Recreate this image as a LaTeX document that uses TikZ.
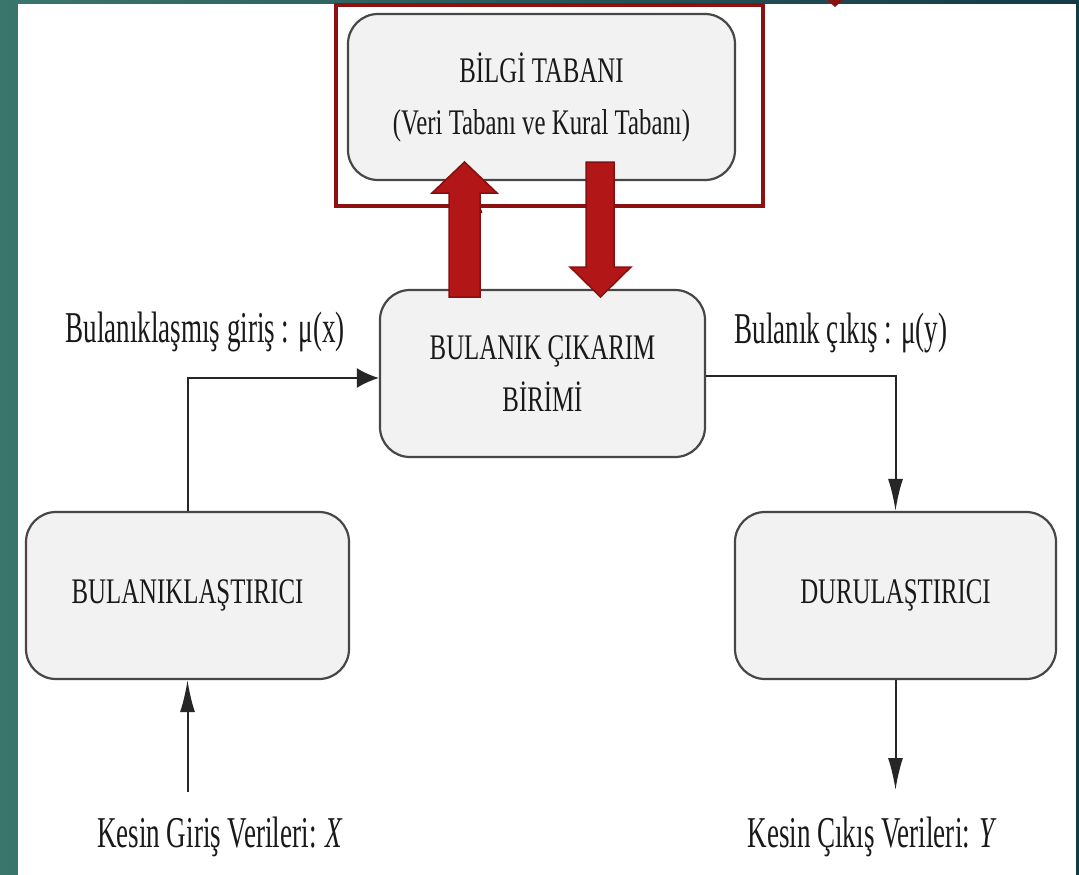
\documentclass[tikz,border=0pt]{standalone}
\usepackage{fontspec}
\setmainfont{Liberation Serif}
\newfontfamily\boxfont{Liberation Serif}[FakeStretch=0.69]
\newfontfamily\lblfont{Liberation Serif}[FakeStretch=0.615]
\usetikzlibrary{arrows.meta}
\definecolor{tealL}{RGB}{58,118,108}
\definecolor{tealR}{RGB}{20,58,72}
\definecolor{frameRed}{RGB}{140,18,18}
\definecolor{arrowRed}{RGB}{178,22,22}
\definecolor{arrowEdge}{RGB}{135,15,15}
\definecolor{boxFill}{RGB}{242,242,242}

\begin{document}
\begin{tikzpicture}[x=1pt,y=-1pt,
  block/.style={draw=black!72, line width=2.2pt, fill=boxFill, rounded corners=30pt,
    inner sep=0pt, align=center, text=black!90, font=\boxfont\fontsize{36}{52}\selectfont},
  lbl/.style={anchor=base, inner sep=0pt, text=black!90, font=\lblfont\fontsize{44}{50}\selectfont},
  flow/.style={draw=black!85, line width=2pt},
  vtip/.style={-{Latex[length=32pt,width=15pt]}},
  htip/.style={-{Latex[length=22pt,width=20pt]}},
  bigarrow/.style={fill=arrowRed, draw=arrowEdge, line width=1.5pt, line join=miter}
]
\useasboundingbox (0,0) rectangle (1079,875);

% slide background and white page
\shade[left color=tealL, right color=tealR] (0,0) rectangle (1079,875);
\fill[white] (18,4) rectangle (1076,875);
\fill[frameRed] (827,0) -- (843,0) -- (835,7) -- cycle;

% blocks
\node[block, minimum width=387pt, minimum height=166pt] (bilgi) at (541.5,97)
  {BİLGİ TABANI\\(Veri Tabanı ve Kural Tabanı)};
\node[block, minimum width=325pt, minimum height=167pt] (cikarim) at (542.5,373.5)
  {BULANIK ÇIKARIM\\BİRİMİ};
\node[block, minimum width=323pt, minimum height=167pt] (bulan) at (187.5,595.5)
  {BULANIKLAŞTIRICI};
\node[block, minimum width=321pt, minimum height=167pt] (duru) at (895.5,595.5)
  {DURULAŞTIRICI};

% highlight frame around the knowledge base
\node[draw=frameRed, line width=4pt, minimum width=427pt, minimum height=201pt,
  inner sep=0pt] (frame) at (549.5,105.5) {};

% labels
\node[lbl] (fuzzin) at (205,342) {Bulanıklaşmış giriş : μ(x)};
\node[lbl] (fuzzout) at (841,343) {Bulanık çıkış : μ(y)};
\node[lbl] (crispin) at (220,847) {Kesin Giriş Verileri: \textit{X}};
\node[lbl] (crispout) at (872,847) {Kesin Çıkış Verileri: \textit{Y}};

% connectors
\coordinate (inpt) at (187.5,792);
\coordinate (outpt) at (895.5,790);
\draw[flow,htip] (bulan.north) |- ([yshift=-4.5pt]cikarim.west);
\draw[flow,vtip] ([yshift=-2.5pt]cikarim.east) -| (duru.north);
\draw[flow,vtip] (inpt) -- (bulan.south);
\draw[flow,vtip] (duru.south) -- (outpt);

% thin links between inference unit and knowledge base
\draw[flow,vtip] (cikarim.north -| 475,0) -- (bilgi.south -| 475,0);
\draw[flow,vtip] (bilgi.south -| 605,0) -- (cikarim.north -| 605,0);

% block arrows
\draw[bigarrow] (449,297) -- (449,193) -- (432,193) -- (464.5,162) -- (497,193)
  -- (480,193) -- (480,297) -- cycle;
\draw[bigarrow] (586,162) -- (614,162) -- (614,267) -- (631,267) -- (600.5,297)
  -- (570,267) -- (586,267) -- cycle;
\end{tikzpicture}
\end{document}
